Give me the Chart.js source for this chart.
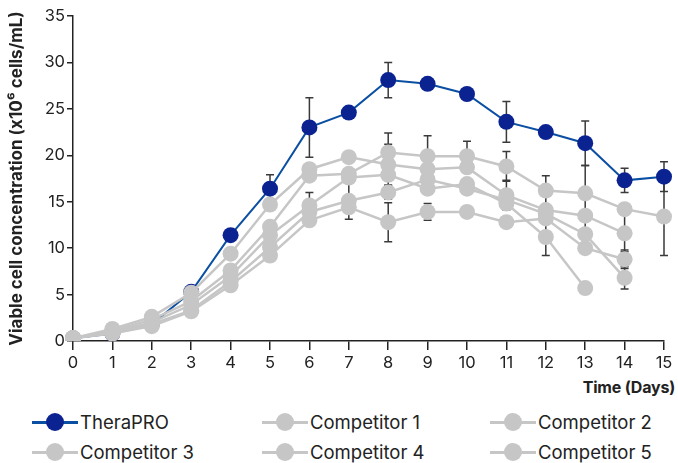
<!DOCTYPE html>
<html>
<head>
<meta charset="utf-8">
<script src="https://cdn.jsdelivr.net/npm/chart.js@4.4.0/dist/chart.umd.min.js"></script>
<style>
	body { margin: 0; background: #fff; font-family: Inter, "Noto Sans", sans-serif; }
	#wrap { position: relative; width: 678px; height: 463px; overflow: hidden; }
	#box { position: absolute; left: 0; top: 0; width: 678px; height: 375px; }
	#xtitle { position: absolute; right: 3px; top: 377px; font-weight: 700; font-size: 16px; color: #222; letter-spacing: -0.2px; }
	.item { position: absolute; height: 20px; display: flex; align-items: center; font-size: 18.5px; color: #222; }
	.sym { position: relative; width: 46px; height: 20px; margin-right: 2px; }
	.sym .ln { position: absolute; left: 0; right: 0; top: 8.5px; height: 3px; }
	.sym .dot { position: absolute; left: 14px; top: 1px; width: 18px; height: 18px; border-radius: 50%; }
</style>
</head>
<body>
<div id="wrap">
	<div id="box"><canvas id="chart"></canvas></div>
	<div id="xtitle">Time (Days)</div>
	<div id="legend"></div>
</div>
<script>
const DAYS = ["0", "1", "2", "3", "4", "5", "6", "7", "8", "9", "10", "11", "12", "13", "14", "15"];
const SERIES_NAMES = ["TheraPRO", "Competitor 1", "Competitor 2", "Competitor 3", "Competitor 4", "Competitor 5"];

// viable cell concentration (x10^6 cells/mL)
const THERAPRO = [0.3, 0.8, 1.8, 5.3, 11.4, 16.4, 23.0, 24.6, 28.1, 27.7, 26.6, 23.6, 22.5, 21.3, 17.3, 17.7];
const COMP1 = [0.3, 1.3, 2.6, 5.2, 9.4, 14.7, 18.5, 19.8, 19.0, 18.5, 18.7, 15.7, 14.1, 13.5, 11.6, null];
const COMP2 = [0.3, 1.1, 2.3, 4.3, 7.6, 12.3, 17.8, 18.0, 20.3, 19.9, 19.9, 18.8, 16.2, 15.9, 14.2, 13.4];
const COMP3 = [0.3, 1.0, 2.0, 3.9, 7.0, 11.4, 14.6, 17.6, 17.9, 16.4, 16.9, 14.8, 11.2, 5.7, null, null];
const COMP4 = [0.3, 0.9, 1.8, 3.3, 6.4, 10.1, 13.9, 15.1, 16.0, 17.4, 16.4, 15.2, 13.7, 11.5, 6.8, null];
const COMP5 = [0.3, 0.8, 1.6, 3.2, 6.0, 9.2, 13.0, 14.4, 12.8, 13.9, 13.9, 12.8, 13.2, 10.0, 8.8, null];

// error bars (+/-), 0 = none shown
const THERAPRO_ERR = [0, 0, 0, 0, 0, 1.5, 3.2, 0, 1.9, 0, 0, 2.2, 0, 2.4, 1.3, 1.6];
const COMP1_ERR = [0, 0, 0, 0, 0, 0, 0, 0, 2.2, 0, 0, 1.6, 0, 0, 2.0, 0];
const COMP2_ERR = [0, 0, 0, 0, 0, 0, 0, 0, 2.1, 2.2, 1.6, 1.6, 1.6, 3.0, 0, 4.2];
const COMP3_ERR = [0, 0, 0, 0, 0, 0, 1.4, 0, 0, 0, 0, 0, 2.0, 0, 0, 0];
const COMP4_ERR = [0, 0, 0, 0, 0, 0, 0, 2.0, 0.7, 0, 0, 0, 0, 1.5, 1.2, 0];
const COMP5_ERR = [0, 0, 0, 0, 0, 0.6, 0, 0, 2.1, 0.9, 0, 0, 0, 0, 1.0, 0];

const Y_TICKS = [0, 5, 10, 15, 20, 25, 30, 35];

const BLUE_LINE = "#0b4fa3";
const BLUE_DOT = "#0a2391";
const GREY = "#c6c6c6";
const INK = "#222";

// ================ error bar plugin ================
const errorBars = {
	id: "errorBars",
	beforeDatasetsDraw(chart) {
		const ctx = chart.ctx;
		const xs = chart.scales.x;
		const ys = chart.scales.y;
		ctx.save();
		ctx.strokeStyle = "#3a3a3a";
		ctx.lineWidth = 1.5;
		chart.data.datasets.forEach((ds) => {
			ds.data.forEach((v, j) => {
				const e = ds.errors[j];
				if (v == null || !e) return;
				const x = xs.getPixelForValue(j);
				const top = ys.getPixelForValue(v + e);
				const bot = ys.getPixelForValue(v - e);
				ctx.beginPath();
				ctx.moveTo(x, top);
				ctx.lineTo(x, bot);
				ctx.moveTo(x - 4, top);
				ctx.lineTo(x + 4, top);
				ctx.moveTo(x - 4, bot);
				ctx.lineTo(x + 4, bot);
				ctx.stroke();
			});
		});
		ctx.restore();
	},
};

function greySet(label, data, errors) {
	return {
		label, data, errors,
		borderColor: GREY, backgroundColor: GREY,
		borderWidth: 2.5, pointRadius: 8, pointBorderWidth: 0,
		spanGaps: false, order: 0,
	};
}

const datasets = [
	{
		label: SERIES_NAMES[0], data: THERAPRO, errors: THERAPRO_ERR,
		borderColor: BLUE_LINE, backgroundColor: BLUE_DOT,
		borderWidth: 2, pointRadius: 8, pointBorderWidth: 0, order: 1,
	},
	greySet(SERIES_NAMES[1], COMP1, COMP1_ERR),
	greySet(SERIES_NAMES[2], COMP2, COMP2_ERR),
	greySet(SERIES_NAMES[3], COMP3, COMP3_ERR),
	greySet(SERIES_NAMES[4], COMP4, COMP4_ERR),
	greySet(SERIES_NAMES[5], COMP5, COMP5_ERR),
];

const tickFont = { family: "Inter", size: 16.5 };

new Chart(document.getElementById("chart"), {
	type: "line",
	data: { labels: DAYS, datasets },
	plugins: [errorBars],
	options: {
		responsive: true,
		maintainAspectRatio: false,
		animation: false,
		devicePixelRatio: 1,
		layout: { padding: { top: 16, right: 14, left: 0, bottom: 0 } },
		plugins: { legend: { display: false }, tooltip: { enabled: false } },
		scales: {
			x: {
				type: "category",
				offset: false,
				grid: { drawOnChartArea: false, tickLength: 9, color: INK, lineWidth: 1.5 },
				border: { color: INK, width: 1.5 },
				ticks: { color: INK, font: tickFont, padding: 3, maxRotation: 0, autoSkip: false },
				afterFit: (s) => { s.height = 34; },
			},
			y: {
				min: 0,
				max: 35,
				afterBuildTicks: (s) => { s.ticks = Y_TICKS.map((v) => ({ value: v })); },
				grid: { drawOnChartArea: false, tickLength: 6, color: INK, lineWidth: 1.5 },
				border: { color: INK, width: 1.5 },
				ticks: { color: INK, font: tickFont, padding: 2 },
				title: {
					display: true,
					text: "Viable cell concentration (x10\u2076 cells/mL)",
					color: INK,
					font: { family: "Inter", size: 17, weight: "bold" },
					padding: { top: 7, bottom: 0 },
				},
				afterFit: (s) => { s.width = 73; },
			},
		},
	},
});

// ================ legend ================
const legend = document.getElementById("legend");
const colLeft = [32, 262, 490];
const rowTop = [412, 442];
SERIES_NAMES.forEach((name, i) => {
	const blue = i === 0;
	const item = document.createElement("div");
	item.className = "item";
	item.style.left = colLeft[i % 3] + "px";
	item.style.top = rowTop[Math.floor(i / 3)] + "px";
	item.innerHTML = `<div class="sym"><div class="ln" style="background:${blue ? BLUE_LINE : GREY}"></div>` +
		`<div class="dot" style="background:${blue ? BLUE_DOT : GREY}"></div></div><span>${name}</span>`;
	legend.appendChild(item);
});
</script>
</body>
</html>
